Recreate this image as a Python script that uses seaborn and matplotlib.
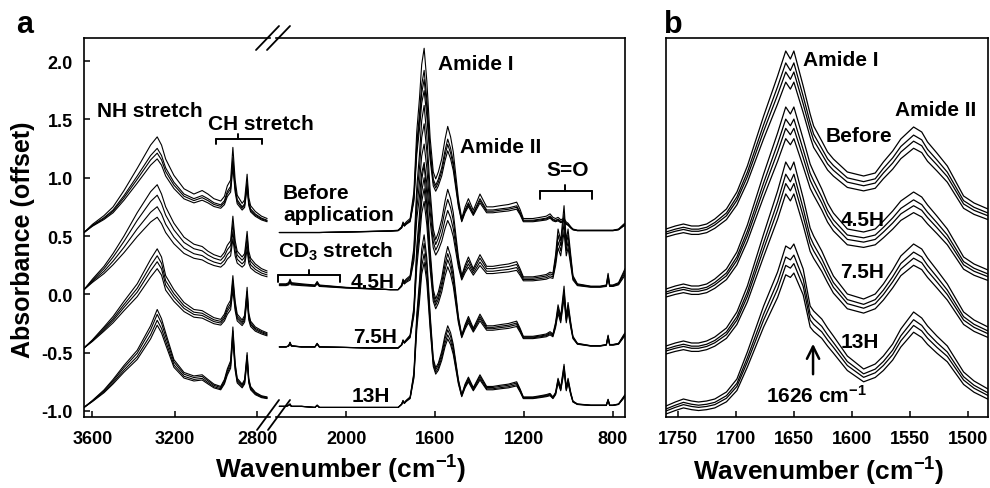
import numpy as np
import pandas as pd
import matplotlib
matplotlib.use("Agg")
import matplotlib.pyplot as plt
import seaborn as sns
from matplotlib.lines import Line2D

# ---------------- data ----------------
GROUPS = ["Before", "4.5H", "7.5H", "13H"]
GROUP_OFFSET = [0.53, 0.04, -0.46, -0.97]          # panel a vertical offsets
REP_SCALE = [[1.0, 0.88, 0.83, 0.77],               # replicate spread, panel a
             [1.0, 0.90, 0.79, 0.69],
             [1.0, 0.93, 0.87, 0.80],
             [1.0, 0.95, 0.89, 0.84]]

# panel a, left segment (NH / CH stretch region), absorbance above group offset
LEFT_WN = [3641, 3600, 3544, 3500, 3447, 3383, 3318, 3286, 3265, 3245, 3205, 3156,
           3108, 3068, 3040, 3011, 2978, 2960, 2946, 2930, 2919, 2908, 2898, 2874,
           2862, 2850, 2842, 2833, 2810, 2780, 2753]
LEFT_BEFORE = [0.0, 0.07, 0.145, 0.22, 0.36, 0.55, 0.75, 0.82, 0.75, 0.63, 0.49, 0.375,
               0.33, 0.36, 0.33, 0.29, 0.27, 0.31, 0.40, 0.45, 0.73, 0.45, 0.32, 0.25,
               0.28, 0.50, 0.30, 0.23, 0.18, 0.14, 0.12]
LEFT_45H = [0.0, 0.09, 0.20, 0.31, 0.46, 0.66, 0.84, 0.90, 0.82, 0.71, 0.57, 0.45,
            0.39, 0.37, 0.33, 0.30, 0.28, 0.32, 0.38, 0.42, 0.63, 0.42, 0.33, 0.28,
            0.31, 0.50, 0.33, 0.27, 0.22, 0.18, 0.16]
LEFT_75H = [0.0, 0.07, 0.18, 0.27, 0.40, 0.55, 0.76, 0.85, 0.78, 0.62, 0.50, 0.39,
            0.33, 0.32, 0.29, 0.26, 0.245, 0.29, 0.36, 0.41, 0.62, 0.40, 0.29, 0.24,
            0.28, 0.52, 0.30, 0.23, 0.18, 0.15, 0.13]
LEFT_13H = [0.0, 0.06, 0.15, 0.24, 0.36, 0.49, 0.70, 0.84, 0.76, 0.64, 0.41, 0.30,
            0.27, 0.28, 0.24, 0.20, 0.18, 0.24, 0.33, 0.40, 0.69, 0.38, 0.25, 0.20,
            0.24, 0.47, 0.25, 0.18, 0.13, 0.10, 0.09]

# panel a, right segment (CD3, amide, S=O region)
RIGHT_WN = [2300, 2270, 2258, 2252, 2246, 2200, 2140, 2130, 2120, 2000,
            1900, 1800, 1766, 1750, 1744, 1738, 1730, 1712, 1695, 1682,
            1670, 1660, 1649, 1637, 1622, 1608, 1597, 1585, 1570, 1555,
            1543, 1530, 1518, 1495, 1480, 1465, 1450, 1428, 1398, 1368,
            1340, 1308, 1270, 1233, 1218, 1203, 1160, 1128, 1100, 1083,
            1070, 1058, 1047, 1035, 1020, 1010, 1002, 990, 980, 960,
            900, 858, 830, 822, 815, 800, 775, 753, 746]
RIGHT_BEFORE = [0.00, 0.00, 0.00, 0.00, 0.00, 0.00, 0.00, 0.00, 0.00, 0.005,
                0.01, 0.015, 0.02, 0.05, 0.09, 0.07, 0.09, 0.12, 0.35, 0.87,
                1.15, 1.44, 1.58, 1.30, 0.81, 0.52, 0.46, 0.52, 0.63, 0.80,
                0.91, 0.82, 0.69, 0.29, 0.12, 0.22, 0.29, 0.19, 0.33, 0.22,
                0.22, 0.23, 0.24, 0.26, 0.20, 0.12, 0.12, 0.13, 0.14, 0.16,
                0.13, 0.12, 0.13, 0.11, 0.12, 0.09, 0.08, 0.05, 0.03, 0.02,
                0.02, 0.02, 0.02, 0.02, 0.02, 0.02, 0.03, 0.07, 0.08]
RIGHT_45H = [0.05, 0.05, 0.06, 0.09, 0.06, 0.05, 0.04, 0.07, 0.04, 0.02,
             0.01, 0.00, 0.00, 0.04, 0.09, 0.07, 0.09, 0.12, 0.36, 0.88,
             1.16, 1.45, 1.58, 1.32, 0.85, 0.52, 0.43, 0.49, 0.60, 0.76,
             0.86, 0.78, 0.66, 0.28, 0.12, 0.21, 0.28, 0.18, 0.30, 0.20,
             0.20, 0.21, 0.22, 0.24, 0.18, 0.11, 0.11, 0.12, 0.13, 0.15,
             0.14, 0.30, 0.52, 0.42, 0.72, 0.42, 0.52, 0.30, 0.12, 0.05,
             0.03, 0.03, 0.04, 0.14, 0.04, 0.04, 0.06, 0.15, 0.18]
RIGHT_75H = [0.01, 0.01, 0.02, 0.05, 0.02, 0.01, 0.01, 0.04, 0.01, 0.005,
             0.0, 0.0, 0.0, 0.03, 0.07, 0.05, 0.07, 0.11, 0.35, 0.87,
             1.15, 1.44, 1.57, 1.32, 0.84, 0.50, 0.42, 0.48, 0.60, 0.77,
             0.87, 0.79, 0.66, 0.27, 0.11, 0.20, 0.27, 0.17, 0.29, 0.19,
             0.19, 0.20, 0.21, 0.23, 0.17, 0.10, 0.10, 0.11, 0.12, 0.14,
             0.12, 0.22, 0.37, 0.27, 0.53, 0.27, 0.39, 0.22, 0.10, 0.04,
             0.02, 0.02, 0.03, 0.11, 0.03, 0.03, 0.04, 0.11, 0.13]
RIGHT_13H = [0.01, 0.01, 0.02, 0.03, 0.01, 0.01, 0.0, 0.02, 0.0, 0.0,
             0.0, 0.0, 0.0, 0.03, 0.06, 0.04, 0.06, 0.09, 0.30, 0.80,
             1.08, 1.36, 1.48, 1.28, 0.80, 0.42, 0.34, 0.38, 0.48, 0.62,
             0.70, 0.64, 0.54, 0.24, 0.11, 0.20, 0.26, 0.17, 0.28, 0.18,
             0.18, 0.19, 0.20, 0.22, 0.16, 0.09, 0.09, 0.10, 0.11, 0.12,
             0.09, 0.13, 0.25, 0.17, 0.37, 0.17, 0.25, 0.13, 0.055, 0.03,
             0.02, 0.02, 0.02, 0.07, 0.02, 0.02, 0.03, 0.09, 0.11]

# panel b (amide I / II zoom), arbitrary offset units
PB_WN = [1760, 1752, 1745, 1738, 1732, 1725, 1718, 1708, 1699, 1690,
         1676, 1664, 1657, 1653, 1650, 1642, 1636, 1633, 1626, 1621,
         1616, 1604, 1590, 1580, 1573, 1565, 1558, 1547, 1540, 1535,
         1527, 1518, 1504, 1495, 1483]
PB_BEFORE = [0, 3, 5, 3, 3, 5, 10, 20, 37, 63, 113, 153, 178, 170, 178, 143, 115, 103,
             88, 77, 70, 57, 53, 56, 67, 78, 90, 102, 97, 87, 76, 63, 33, 26, 20]
PB_45H = [0, 3, 5, 3, 3, 5, 10, 20, 37, 64, 115, 156, 182, 175, 182, 150, 125, 117,
          100, 86, 76, 60, 57, 60, 68, 78, 88, 97, 92, 84, 73, 60, 32, 25, 19]
PB_75H = [0, 3, 5, 3, 3, 5, 9, 18, 34, 60, 112, 155, 184, 176, 184, 148, 118, 110,
          95, 82, 70, 52, 47, 52, 62, 76, 90, 102, 97, 88, 76, 62, 34, 26, 19]
PB_13H = [0, 4, 7, 5, 4, 5, 7, 14, 27, 54, 100, 134, 160, 157, 162, 137, 100, 95,
          87, 78, 70, 50, 37, 42, 50, 62, 77, 94, 88, 80, 70, 60, 34, 25, 17]
PB_OFFSET = [188, 128, 71, 11]
PB_REP_SCALE = [1.0, 0.95, 0.91, 0.87]
PB_REP_SHIFT = [0, -3, -5, -8]

A_YTICKS = [-1.0, -0.5, 0.0, 0.5, 1.0, 1.5, 2.0]
A_YTICKLABELS = ["-1.0", "-0.5", "0.0", "0.5", "1.0", "1.5", "2.0"]
A_LEFT_XTICKS = [3600, 3200, 2800]
A_RIGHT_XTICKS = [2000, 1600, 1200, 800]
B_XTICKS = [1750, 1700, 1650, 1600, 1550, 1500]

LEFT_SETS = [LEFT_BEFORE, LEFT_45H, LEFT_75H, LEFT_13H]
RIGHT_SETS = [RIGHT_BEFORE, RIGHT_45H, RIGHT_75H, RIGHT_13H]
PB_SETS = [PB_BEFORE, PB_45H, PB_75H, PB_13H]

# ---------------- build long tables ----------------
def build_a(wn, sets):
    rows = []
    for gi, g in enumerate(GROUPS):
        rel = np.asarray(sets[gi], float)
        for ri, s in enumerate(REP_SCALE[gi]):
            y = GROUP_OFFSET[gi] + s * rel
            for w, v in zip(wn, y):
                rows.append((f"{g}-{ri}", w, v))
    return pd.DataFrame(rows, columns=["curve", "wn", "y"])

def build_b():
    rows = []
    for gi, g in enumerate(GROUPS):
        rel = np.asarray(PB_SETS[gi], float)
        for ri, (s, b) in enumerate(zip(PB_REP_SCALE, PB_REP_SHIFT)):
            y = (PB_OFFSET[gi] + b + s * rel) / 100.0
            for w, v in zip(PB_WN, y):
                rows.append((f"{g}-{ri}", w, v))
    return pd.DataFrame(rows, columns=["curve", "wn", "y"])

dfL = build_a(LEFT_WN, LEFT_SETS)
dfR = build_a(RIGHT_WN, RIGHT_SETS)
dfB = build_b()

# ---------------- style ----------------
sns.set_style("ticks")
plt.rcParams["font.family"] = ["Liberation Sans", "DejaVu Sans"]
plt.rcParams["font.weight"] = "bold"
plt.rcParams["mathtext.fontset"] = "custom"
plt.rcParams["mathtext.rm"] = "Liberation Sans:bold"
plt.rcParams["mathtext.bf"] = "Liberation Sans:bold"
plt.rcParams["mathtext.it"] = "Liberation Sans:bold"
plt.rcParams["axes.linewidth"] = 1.2
for key in ("text.color", "axes.labelcolor", "xtick.color", "ytick.color",
            "axes.edgecolor", "xtick.labelcolor", "ytick.labelcolor"):
    plt.rcParams[key] = "black"

W, H = 990, 489
fig = plt.figure(figsize=(W / 100, H / 100), dpi=100)

def px_axes(x0, x1, y0, y1):
    return fig.add_axes([x0 / W, 1 - y1 / H, (x1 - x0) / W, (y1 - y0) / H])

axL = px_axes(84, 270, 39, 418)
axR = px_axes(276, 625, 39, 418)
axB = px_axes(666, 988, 39, 418)
for ax in (axL, axR, axB):
    ax.patch.set_alpha(0)
axL.set_zorder(2)

line_kw = dict(x="wn", y="y", units="curve", estimator=None, sort=False,
               color="black", legend=False)
sns.lineplot(data=dfL, ax=axL, linewidth=0.8, **line_kw)
sns.lineplot(data=dfR, ax=axR, linewidth=0.8, **line_kw)
sns.lineplot(data=dfB, ax=axB, linewidth=0.9, **line_kw)

for ax in (axL, axR, axB):
    ax.set_xlabel("")
    ax.set_ylabel("")
    ax.tick_params(direction="in", length=4.5, width=1.1, labelsize=13, pad=9.5,
                   colors="black")

ylim = (-1.052, 2.198)
axL.set_xlim(3641, 2739)
axL.set_ylim(*ylim)
axL.set_xticks(A_LEFT_XTICKS)
axL.set_xticklabels([str(v) for v in A_LEFT_XTICKS], fontweight="bold", fontsize=13)
axL.set_yticks(A_YTICKS)
axL.set_yticklabels(A_YTICKLABELS, fontweight="bold", fontsize=13)
axL.tick_params(axis="y", pad=8)
axL.spines["right"].set_visible(False)

axR.set_xlim(2315, 746)
axR.set_ylim(*ylim)
axR.set_xticks(A_RIGHT_XTICKS)
axR.set_xticklabels([str(v) for v in A_RIGHT_XTICKS], fontweight="bold", fontsize=13)
axR.set_yticks([])
axR.spines["left"].set_visible(False)

axB.set_xlim(1760, 1483)
axB.set_ylim(0, 3.79)
axB.set_xticks(B_XTICKS)
axB.set_xticklabels([str(v) for v in B_XTICKS], fontweight="bold", fontsize=13)
axB.set_yticks([])

# break marks
def fig_line(x0, y0, x1, y1):
    fig.add_artist(Line2D([x0 / W, x1 / W], [1 - y0 / H, 1 - y1 / H],
                          transform=fig.transFigure, color="black", lw=1.3))

for dx in (0, 11):
    fig_line(256 + dx, 51, 279 + dx, 27)
    fig_line(257 + dx, 431, 279 + dx, 401)

# bracket helper (data coordinates)
def bracket(ax, x0, x1, xc, y, ydown, yup):
    kw = dict(color="black", lw=1.4, clip_on=False)
    ax.plot([x0, x1], [y, y], **kw)
    ax.plot([x0, x0], [y, ydown], **kw)
    ax.plot([x1, x1], [y, ydown], **kw)
    ax.plot([xc, xc], [y, yup], **kw)

fs = 15
tk = dict(fontsize=fs, fontweight="bold", clip_on=False, color="black")
axL.text(3321, 1.577, "NH stretch", ha="center", va="center", **tk)
axL.text(2783, 1.465, "CH stretch", ha="center", va="center", **tk)
bracket(axL, 3001, 2778, 2894, 1.336, 1.293, 1.379)

axR.text(2284, 0.870, "Before", ha="left", va="center", **tk)
axR.text(2284, 0.681, "application", ha="left", va="center", **tk)
axR.text(2306, 0.375, r"CD$_{3}$ stretch", ha="left", va="center", **tk)
bracket(axR, 2306, 2027, 2167, 0.164, 0.103, 0.207)
axR.text(1780, 0.112, "4.5H", ha="right", va="center", **tk)
axR.text(1771, -0.362, "7.5H", ha="right", va="center", **tk)
axR.text(1802, -0.871, "13H", ha="right", va="center", **tk)
axR.text(1587, 1.982, "Amide I", ha="left", va="center", **tk)
axR.text(1488, 1.267, "Amide II", ha="left", va="center", **tk)
axR.text(1002, 1.069, "S=O", ha="center", va="center", **tk)
bracket(axR, 1128, 894, 1016, 0.888, 0.819, 0.939)

axB.text(1642, 3.58, "Amide I", ha="left", va="center", **tk)
axB.text(1563, 3.07, "Amide II", ha="left", va="center", **tk)
axB.text(1623, 2.81, "Before", ha="left", va="center", **tk)
axB.text(1610, 1.98, "4.5H", ha="left", va="center", **tk)
axB.text(1610, 1.46, "7.5H", ha="left", va="center", **tk)
axB.text(1610, 0.75, "13H", ha="left", va="center", **tk)
axB.annotate("", xy=(1633.5, 0.76), xytext=(1633.5, 0.40),
             arrowprops=dict(arrowstyle="->", lw=1.8, mutation_scale=22, color="black"))
axB.text(1631, 0.22, r"1626 cm$^{-1}$", ha="center", va="center", **tk)

# axis labels and panel letters
fig.text(23 / W, 1 - 240 / H, "Absorbance (offset)", rotation=90, ha="center",
         va="center", fontsize=18, fontweight="bold", color="black")
fig.text(341 / W, 1 - 470 / H, r"Wavenumber (cm$^{-1}$)", ha="center", va="center",
         fontsize=19, fontweight="bold", color="black")
fig.text(819 / W, 1 - 472 / H, r"Wavenumber (cm$^{-1}$)", ha="center", va="center",
         fontsize=19, fontweight="bold", color="black")
fig.text(16 / W, 1 - 33 / H, "a", ha="left", va="baseline", fontsize=22,
         fontweight="bold", color="black")
fig.text(664 / W, 1 - 33 / H, "b", ha="left", va="baseline", fontsize=22,
         fontweight="bold", color="black")

fig.savefig("out.png", dpi=100, facecolor="white")
